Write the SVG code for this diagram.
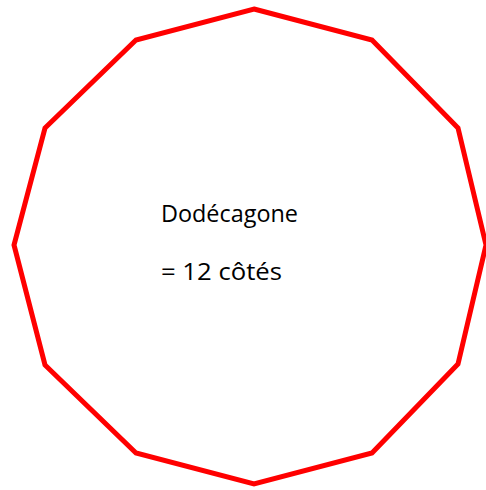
<svg xmlns="http://www.w3.org/2000/svg" width="486" height="490" viewBox="0 0 486 490">
<style>
.shape{fill:none;stroke:#ff0000;stroke-width:5;stroke-linejoin:miter}
.lbl{font-family:"Open Sans","Liberation Sans",sans-serif;font-size:23px;fill:#000}
</style>
<rect width="486" height="490" fill="#fff"/>
<g id="dodecagon">
<polygon class="shape" points="254,9 372,40 458,128 486,245 458,364 372,453 254,484 136,453 45,365 14,245 45,128 136,40"/>
<text class="lbl" x="161" y="222" textLength="137" lengthAdjust="spacingAndGlyphs">Dodécagone</text>
<text class="lbl" x="161" y="280" textLength="121" lengthAdjust="spacingAndGlyphs">= 12 côtés</text>
</g>
</svg>
